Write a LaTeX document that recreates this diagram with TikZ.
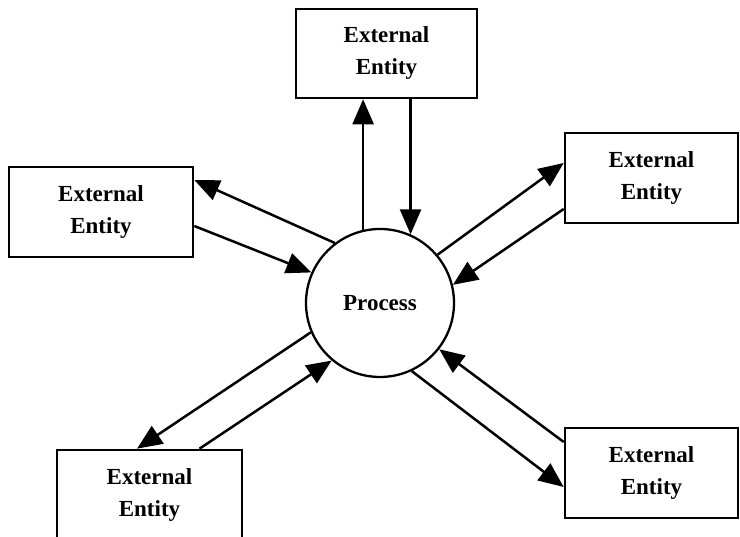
\documentclass[tikz,border=0pt]{standalone}
\usepackage{fontspec}
\setmainfont{Liberation Serif}
\usetikzlibrary{arrows.meta}
\begin{document}
\begin{tikzpicture}[x=1pt,y=1pt,
  entity/.style={draw, line width=2.6pt, rectangle, inner sep=0pt, align=center,
    font=\fontsize{23}{32}\selectfont\bfseries},
  proc/.style={draw, line width=2.3pt, circle, inner sep=0pt, minimum size=148pt,
    font=\fontsize{23}{32}\selectfont\bfseries},
  flow/.style={line width=2.5pt, -{Triangle[length=25pt,width=21pt]}}]
\useasboundingbox (0,0) rectangle (740,537);
\node[proc] (p) at (380,234) {Process};
\node[entity, minimum width=181pt, minimum height=89pt] (top) at (386.5,483.5) {External\\Entity};
\node[entity, minimum width=184pt, minimum height=90pt] (left) at (101,325) {External\\Entity};
\node[entity, minimum width=173pt, minimum height=90pt] (rtop) at (651.5,359) {External\\Entity};
\node[entity, minimum width=173pt, minimum height=90pt] (rbot) at (651.5,64) {External\\Entity};
\node[entity, minimum width=185pt, minimum height=90pt] (lbot) at (149.5,42) {External\\Entity};
% top
\draw[flow] (p.103) -- (p.103 |- top.south);
\draw[flow] (p.66 |- top.south) -- (p.66);
% left
\draw[flow] (p.127) -- ([yshift=32pt]left.east);
\draw[flow] ([yshift=-14pt]left.east) -- (p.156);
% right top
\draw[flow] (p.40) -- ([yshift=15pt]rtop.west);
\draw[flow] ([yshift=-31pt]rtop.west) -- (p.14);
% right bottom
\draw[flow] ([yshift=31pt]rbot.west) -- (p.-38);
\draw[flow] (p.-65) -- ([yshift=-14pt]rbot.west);
% left bottom
\draw[flow] (p.203) -- ([xshift=-12.5pt]lbot.north);
\draw[flow] ([xshift=50pt]lbot.north) -- (p.230);
\end{tikzpicture}
\end{document}
